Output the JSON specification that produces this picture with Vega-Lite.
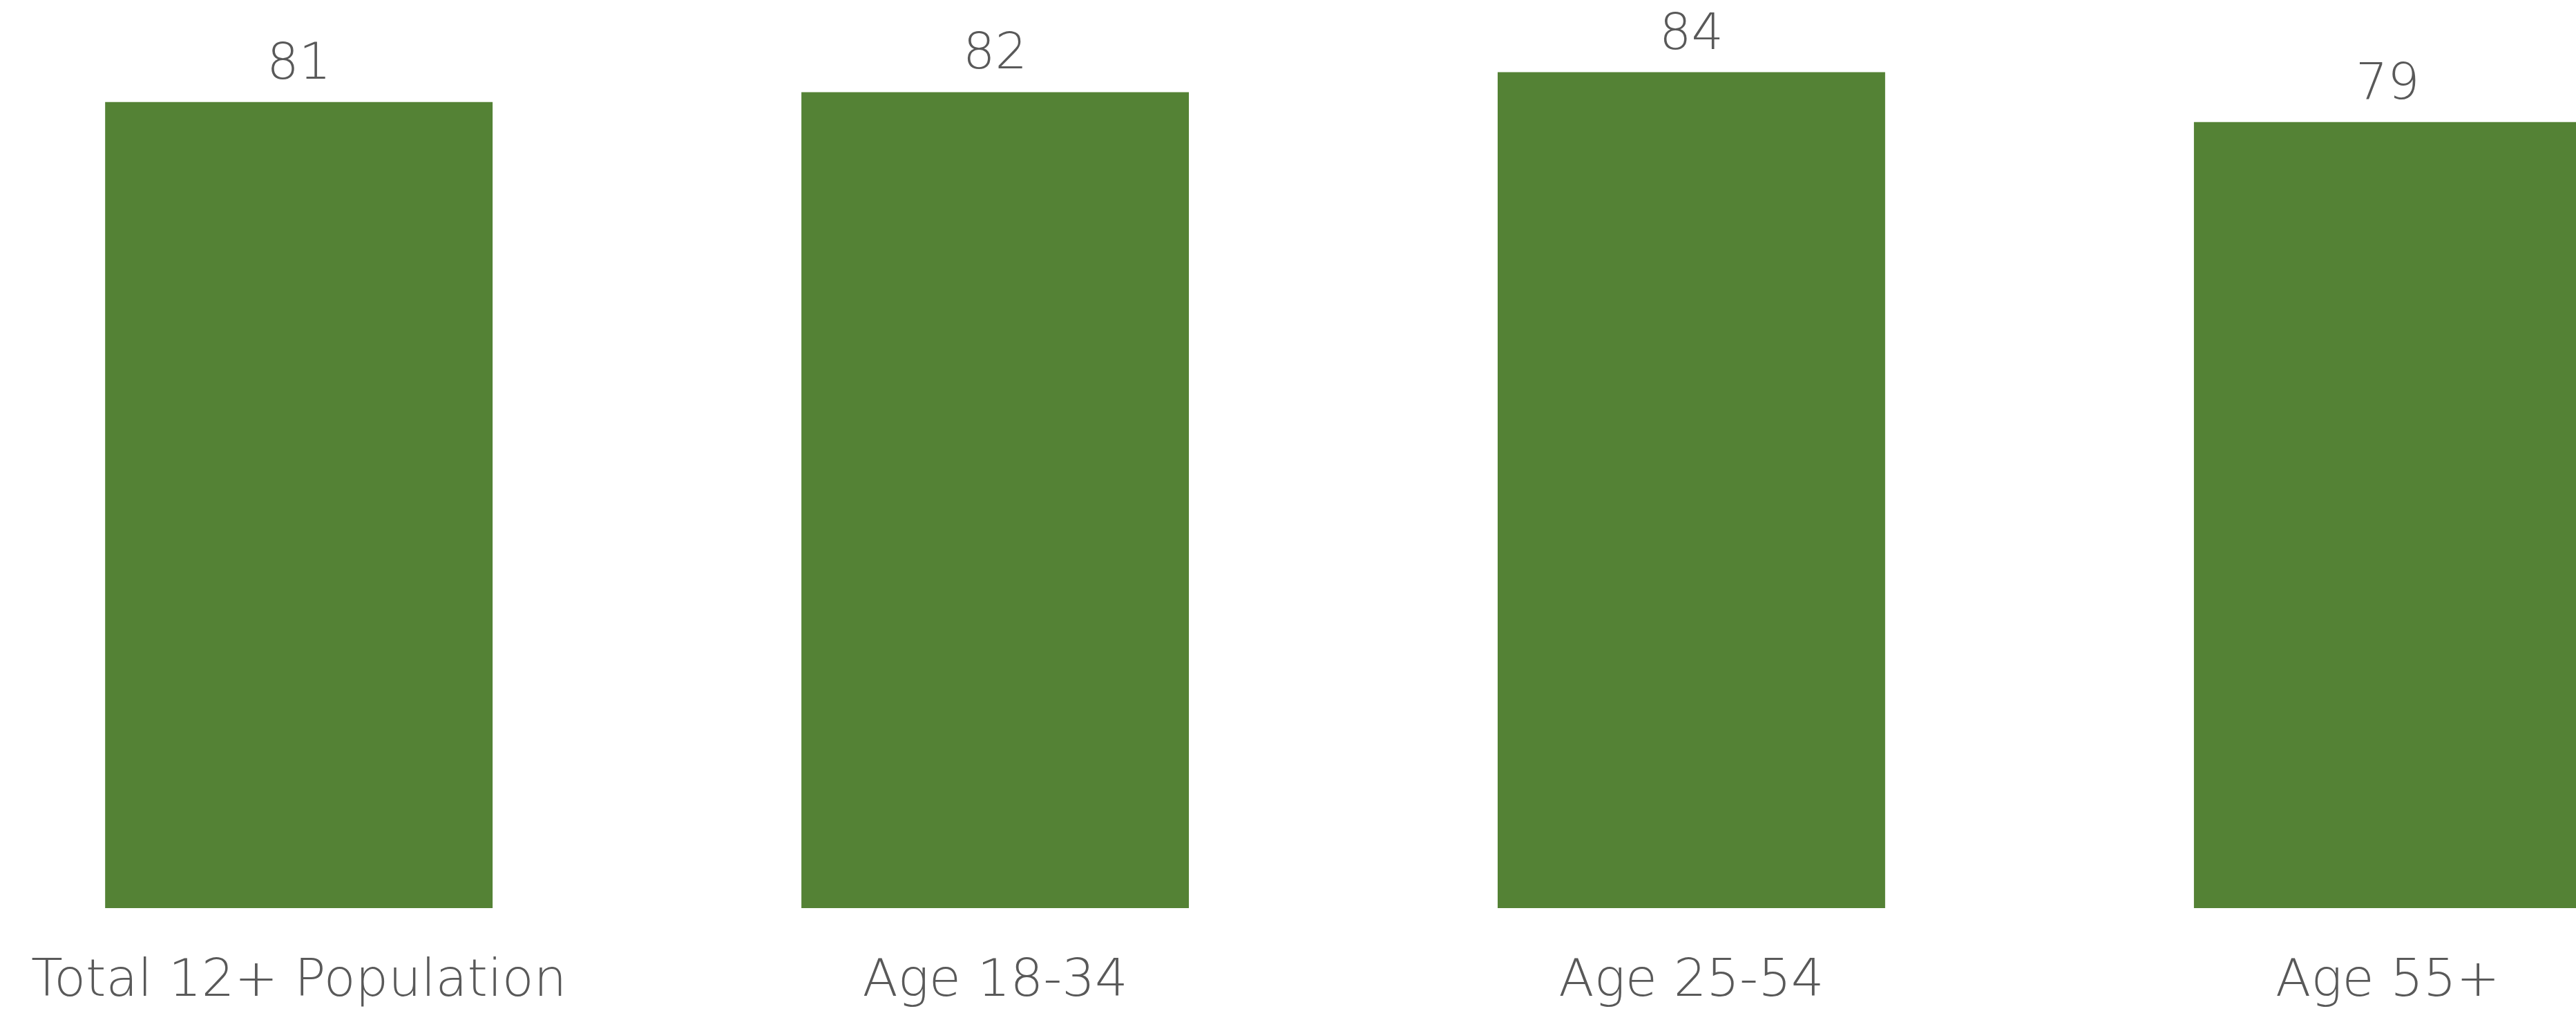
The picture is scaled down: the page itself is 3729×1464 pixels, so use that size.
{
  "$schema": "https://vega.github.io/schema/vega-lite/v6.json",
  "width": 3729,
  "height": 1315,
  "autosize": {"type": "none"},
  "padding": {"left": 0, "top": 0, "right": 0, "bottom": 149},
  "background": "white",
  "config": {"view": {"stroke": null}},
  "data": {
    "values": [
      {"group": "Total 12+ Population", "value": 81},
      {"group": "Age 18-34", "value": 82},
      {"group": "Age 25-54", "value": 84},
      {"group": "Age 55+", "value": 79}
    ]
  },
  "encoding": {
    "x": {
      "field": "group",
      "type": "nominal",
      "sort": null,
      "scale": {"range": [0, 3889], "paddingInner": 0.4435, "paddingOuter": 0.151},
      "axis": {
        "title": null,
        "labelAngle": 0,
        "ticks": false,
        "domain": false,
        "labelFont": "DejaVu Sans",
        "labelFontWeight": 200,
        "labelFontSize": 75,
        "labelColor": "#595959",
        "labelBaseline": "alphabetic",
        "labelPadding": 126,
        "labelLimit": 3000,
        "labelOverlap": false,
        "labelBound": false,
        "labelFlush": false
      }
    },
    "y": {
      "field": "value",
      "type": "quantitative",
      "scale": {"domain": [0, 91.26], "nice": false, "zero": true},
      "axis": null
    }
  },
  "layer": [
    {"mark": {"type": "bar", "color": "#548235"}},
    {
      "mark": {
        "type": "text",
        "dy": -34,
        "baseline": "alphabetic",
        "font": "DejaVu Sans",
        "fontWeight": 200,
        "fontSize": 73,
        "color": "#595959"
      },
      "encoding": {"text": {"field": "value", "type": "quantitative"}}
    }
  ]
}
